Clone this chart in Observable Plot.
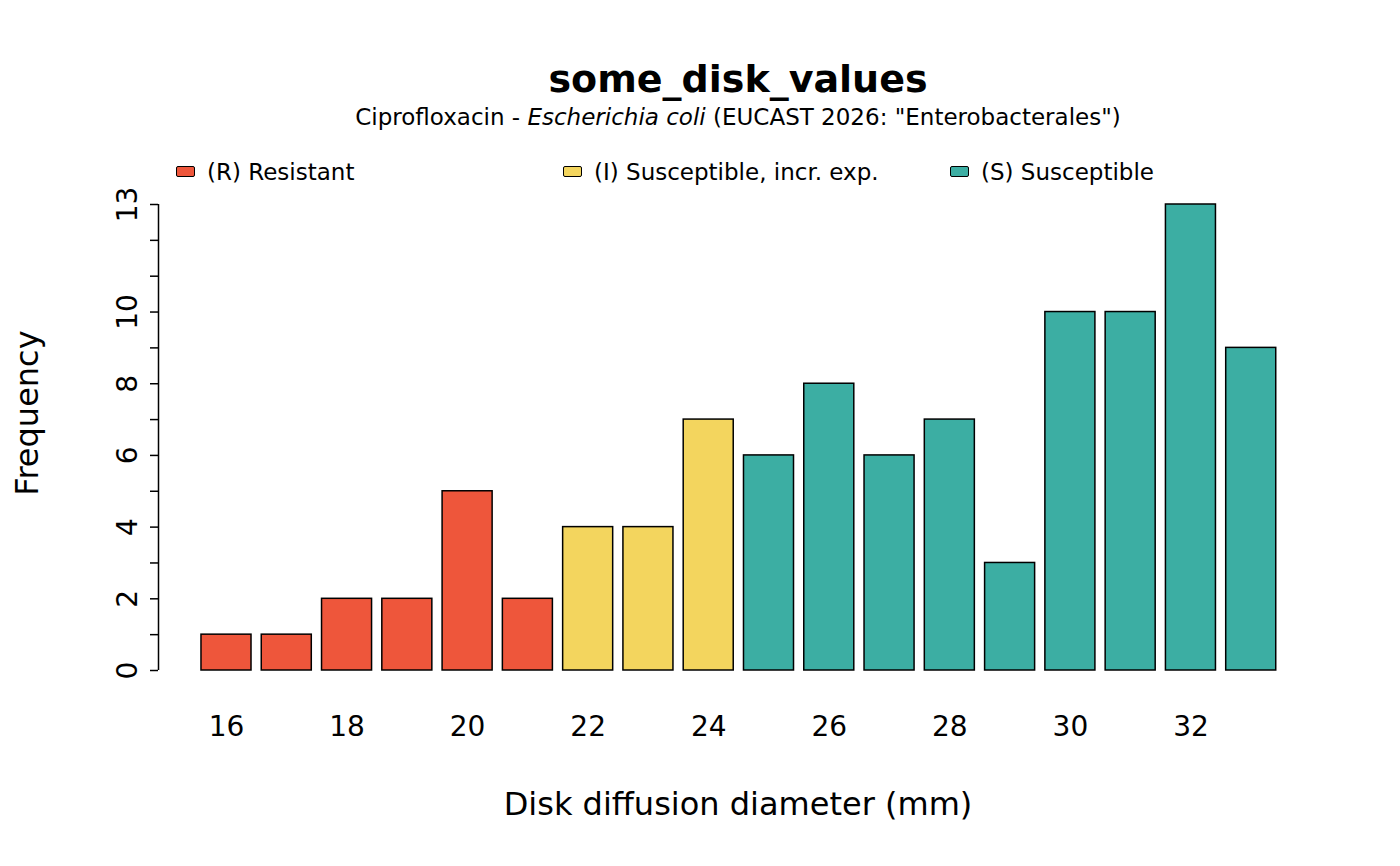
<!DOCTYPE html>
<html><head><meta charset="utf-8">
<script src="https://cdn.jsdelivr.net/npm/d3@7"></script>
<script src="https://cdn.jsdelivr.net/npm/@observablehq/plot@0.6"></script>
<style>
body{margin:0;background:#fff;font-family:"DejaVu Sans",sans-serif;}
#wrap{position:relative;width:1400px;height:866px;}
.t{position:absolute;white-space:nowrap;color:#000;}
.sw{display:inline-block;width:17px;height:9px;border:1.5px solid #000;border-radius:2px;margin-right:12px;vertical-align:middle;position:relative;top:-2px}
</style></head><body>
<div id="wrap"></div>
<script>
const diameters = [16,17,18,19,20,21,22,23,24,25,26,27,28,29,30,31,32,33];
const counts = [1,1,2,2,5,2,4,4,7,6,8,6,7,3,10,10,13,9];
const classes = ["R","R","R","R","R","R","I","I","I","S","S","S","S","S","S","S","S","S"];
const classLabels = {R:"(R) Resistant", I:"(I) Susceptible, incr. exp.", S:"(S) Susceptible"};
const classColors = {R:"#EE563B", I:"#F3D55E", S:"#3CAEA3"};
const yTicks = d3.range(0,14);
const yLabels = [0,2,4,6,8,10,13];
const xLabels = [16,18,20,22,24,26,28,30,32];
const xDomain = [14.872, 34];

const data = diameters.map((d,i)=>({d, n:counts[i], c:classes[i]}));
const chart = Plot.plot({
  width:1400, height:866,
  marginLeft:158, marginRight:89, marginTop:204, marginBottom:196,
  x:{type:"linear", domain:xDomain, axis:null},
  y:{type:"linear", domain:[0,13], axis:null},
  style:{fontFamily:"DejaVu Sans", background:"white"},
  marks:[
    Plot.rect(data,{x1:d=>d.d-0.415, x2:d=>d.d+0.415, y1:()=>0, y2:"n", fill:d=>classColors[d.c], stroke:"#000", strokeWidth:1.5}),
    Plot.ruleX([xDomain[0]],{y1:0,y2:13,stroke:"#000",strokeWidth:1.5}),
    Plot.ruleY(yTicks,{y:d=>d, x1:()=>xDomain[0]-0.133, x2:()=>xDomain[0], stroke:"#000", strokeWidth:1.5}),
    Plot.axisY({ticks:yLabels, tickSize:0, tickPadding:0, label:null, tickFormat:d=>d, tickRotate:-90, anchor:"left", fontSize:28, dx:-22}),
    Plot.axisX({ticks:xLabels, tickSize:0, tickPadding:46, label:null, fontSize:28, anchor:"bottom"})
  ]
});
const wrap = document.getElementById("wrap");
wrap.appendChild(chart);
const add=(html,style)=>{const e=document.createElement("div");e.className="t";e.innerHTML=html;Object.assign(e.style,style);wrap.appendChild(e);return e;};
add("some_disk_values",{left:"738px",top:"57px",transform:"translateX(-50%)",fontSize:"38px",fontWeight:"bold"});
add('Ciprofloxacin - <i>Escherichia coli</i> (EUCAST 2026: "Enterobacterales")',{left:"738px",top:"104px",transform:"translateX(-50%)",fontSize:"23px"});
const lx=[176,563,950];
["R","I","S"].forEach((k,i)=>add(`<span class="sw" style="background:${classColors[k]}"></span>${classLabels[k]}`,{left:lx[i]+"px",top:"159px",fontSize:"23px"}));
add("Frequency",{left:"27px",top:"413px",transform:"translate(-50%,-50%) rotate(-90deg)",fontSize:"32px"});
add("Disk diffusion diameter (mm)",{left:"738px",top:"785px",transform:"translateX(-50%)",fontSize:"32px"});
</script>
</body></html>
